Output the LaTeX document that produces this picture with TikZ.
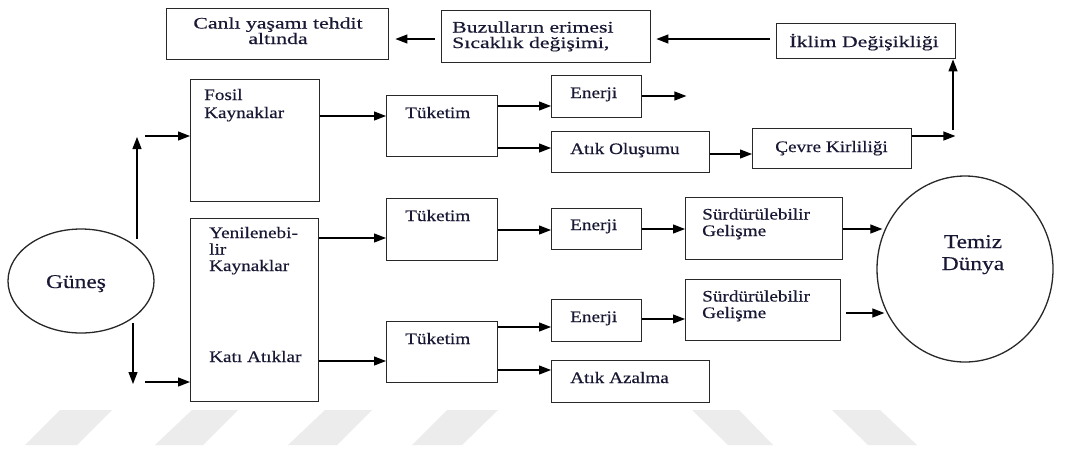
\documentclass[tikz,border=0pt]{standalone}
\usepackage{fontspec}
\setmainfont{Liberation Serif}[FakeStretch=1.2,FakeBold=0.35]
\newfontfamily\widefam{Liberation Serif}[FakeStretch=1.36,FakeBold=0.35]
\usetikzlibrary{arrows.meta,shapes.geometric,calc}
\definecolor{ink}{RGB}{24,24,52}
\definecolor{edge}{RGB}{40,40,40}
\definecolor{mark}{RGB}{236,236,236}
\begin{document}
\begin{tikzpicture}[x=1pt,y=-1pt,
  box/.style={draw=edge,line width=1.4pt,rectangle,inner sep=0pt,anchor=north west},
  txt/.style={text=ink,inner sep=0pt,font=\fontsize{16}{16.5}\selectfont},
  wtxt/.style={text=ink,inner sep=0pt,font=\widefam\fontsize{16}{15.5}\selectfont},
  big/.style={text=ink,inner sep=0pt,font=\fontsize{19.5}{22}\selectfont},
  arr/.style={draw=black,line width=1.2pt,-{Triangle[length=12pt,width=9pt]}},
  wm/.style={fill=mark,draw=none}]
\fill[white] (0,0) rectangle (1065,451);
\useasboundingbox (0,0) rectangle (1065,451);

% light slanted bands along the bottom edge
\path[wm] (60,410) -- (112,410) -- (77,445) -- (25,445) -- cycle;
\path[wm] (192,410) -- (238,410) -- (203,445) -- (155,445) -- cycle;
\path[wm] (325,410) -- (372,410) -- (337,445) -- (288,445) -- cycle;
\path[wm] (447,410) -- (498,410) -- (462,445) -- (412,445) -- cycle;
\path[wm] (692,410) -- (739,410) -- (773,445) -- (728,445) -- cycle;
\path[wm] (832,410) -- (880,410) -- (917,445) -- (868,445) -- cycle;

% boxes
\node[box,minimum width=222pt,minimum height=51pt] (can) at (166,8) {};
\node[box,minimum width=209pt,minimum height=52pt] (buz) at (441,10) {};
\node[box,minimum width=179pt,minimum height=35pt] (ikl) at (776,23) {};
\node[box,minimum width=129pt,minimum height=122pt] (fos) at (190,79) {};
\node[box,minimum width=111pt,minimum height=61pt] (t1) at (386,95) {};
\node[box,minimum width=90pt,minimum height=42pt] (e1) at (551,75) {};
\node[box,minimum width=158pt,minimum height=41pt] (ao) at (551,131) {};
\node[box,minimum width=159pt,minimum height=40pt] (cev) at (752,128) {};
\node[box,minimum width=128pt,minimum height=183pt] (yen) at (190,218) {};
\node[box,minimum width=111pt,minimum height=62pt] (t2) at (386,198) {};
\node[box,minimum width=111pt,minimum height=61pt] (t3) at (386,321) {};
\node[box,minimum width=90pt,minimum height=41pt] (e2) at (551,208) {};
\node[box,minimum width=90pt,minimum height=42pt] (e3) at (551,299) {};
\node[box,minimum width=158pt,minimum height=42pt] (aa) at (551,360) {};
\node[box,minimum width=157pt,minimum height=62pt] (s1) at (685,197) {};
\node[box,minimum width=155pt,minimum height=61pt] (s2) at (685,279) {};
\node[draw=edge,line width=1.3pt,ellipse,minimum width=176pt,minimum height=186pt,inner sep=0pt] (tem) at (965,269) {};
\node[draw=edge,line width=1.3pt,ellipse,minimum width=146pt,minimum height=104pt,inner sep=0pt] (gun) at (81,281) {};

% labels (base anchor of a multi-line label sits on its last line)
\node[wtxt,anchor=base,align=center] (can-t) at (278,44) {Canlı yaşamı tehdit\\altında};
\node[wtxt,anchor=base west,align=left] (buz-t) at (452,48) {Buzulların erimesi\\Sıcaklık değişimi,};
\node[wtxt,anchor=base] (ikl-t) at (864,47) {İklim Değişikliği};
\node[txt,anchor=base west,align=left,font=\fontsize{16}{18}\selectfont] (fos-t) at (204,118) {Fosil\\Kaynaklar};
\node[txt,anchor=base west] (t1-t) at ($(t1.north west)+(19,23)$) {Tüketim};
\node[txt,anchor=base west] (e1-t) at ($(e1.north west)+(19,23)$) {Enerji};
\node[txt,anchor=base west] (ao-t) at ($(ao.north west)+(19,23)$) {Atık Oluşumu};
\node[txt,anchor=base] (cev-t) at (831.5,152) {Çevre Kirliliği};
\node[txt,anchor=base west,align=left] (yen-t) at (209,271) {Yenilenebi-\\lir\\Kaynaklar};
\node[txt,anchor=base west] (kat-t) at (209,362) {Katı Atıklar};
\node[txt,anchor=base west] (t2-t) at ($(t2.north west)+(19,23)$) {Tüketim};
\node[txt,anchor=base west] (t3-t) at ($(t3.north west)+(19,23)$) {Tüketim};
\node[txt,anchor=base west] (e2-t) at ($(e2.north west)+(19,22)$) {Enerji};
\node[txt,anchor=base west] (e3-t) at ($(e3.north west)+(19,23)$) {Enerji};
\node[txt,anchor=base west] (aa-t) at ($(aa.north west)+(19,23)$) {Atık Azalma};
\node[txt,anchor=base west,align=left] (s1-t) at ($(s1.north west)+(17,39)$) {Sürdürülebilir\\Gelişme};
\node[txt,anchor=base west,align=left] (s2-t) at ($(s2.north west)+(17,39)$) {Sürdürülebilir\\Gelişme};
\node[big,anchor=base,align=center] (tem-t) at (973,270) {Temiz\\Dünya};
\node[big,anchor=base] (gun-t) at (76,288) {Güneş};

% free ends near the sun and the climate box
\coordinate (u0) at (137,239);
\coordinate (u1) at (137,137);
\coordinate (f0) at (145,136);
\coordinate (d0) at (133,323);
\coordinate (d1) at (133,384);
\coordinate (k0) at (145,382);
\coordinate (c1) at (953,130);

% connectors
\draw[arr] (u0) -- (u1);
\draw[arr] (f0) -- (f0 -| fos.west);
\draw[arr] (d0) -- (d1);
\draw[arr] (k0) -- (k0 -| yen.west);

\draw[arr,shorten <=6pt,shorten >=6pt] (buz.west |- 0,39) -- (can.east |- 0,39);
\draw[arr,shorten <=6pt,shorten >=5pt] (ikl.west |- 0,39) -- (buz.east |- 0,39);

\draw[arr] (fos.east |- 0,116) -- (t1.west |- 0,116);
\draw[arr] (t1.east |- 0,106) -- (e1.west |- 0,106);
\draw[arr] (t1.east |- 0,148) -- (ao.west |- 0,148);
\draw[arr] (e1.east |- 0,96) -- ++(44,0);
\draw[arr] (ao.east |- 0,154) -- (cev.west |- 0,154);
\draw[arr] (cev.east |- 0,136) -- ++(43,0);
\draw[arr] (c1) -- (c1 |- ikl.south);

\draw[arr] (yen.east |- 0,238) -- (t2.west |- 0,238);
\draw[arr] (yen.east |- 0,361) -- (t3.west |- 0,361);
\draw[arr] (t2.east |- 0,230) -- (e2.west |- 0,230);
\draw[arr] (e2.east |- 0,229) -- (s1.west |- 0,229);
\draw[arr,shorten >=-6pt] (s1.east |- 0,229) -- (tem.west |- 0,229);
\draw[arr] (t3.east |- 0,327) -- (e3.west |- 0,327);
\draw[arr] (t3.east |- 0,370) -- (aa.west |- 0,370);
\draw[arr] (e3.east |- 0,319) -- (s2.west |- 0,319);
\draw[arr,shorten <=5pt,shorten >=-8pt] (s2.east |- 0,313) -- (tem.west |- 0,313);
\end{tikzpicture}
\end{document}
